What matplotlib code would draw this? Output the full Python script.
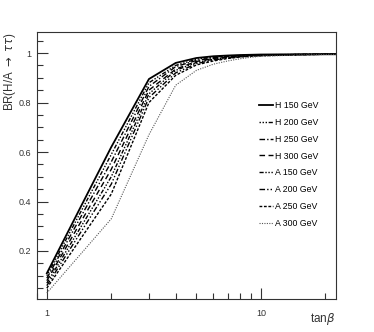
import matplotlib
matplotlib.use("Agg")
import matplotlib.pyplot as plt
from matplotlib.ticker import LogLocator, NullFormatter, FixedLocator, MultipleLocator

plt.rcParams['font.family'] = ['Liberation Sans', 'DejaVu Sans']

tanb = [1, 2, 3, 4, 5, 6, 7, 8, 9, 10, 15, 20, 30]

labels = ["H 150 GeV", "H 200 GeV", "H 250 GeV", "H 300 GeV",
          "A 150 GeV", "A 200 GeV", "A 250 GeV", "A 300 GeV"]

br_h150 = [0.11, 0.62, 0.895, 0.960, 0.980, 0.987, 0.990, 0.992, 0.993, 0.994, 0.995, 0.995, 0.995]
br_h200 = [0.10, 0.59, 0.880, 0.950, 0.975, 0.984, 0.988, 0.990, 0.992, 0.993, 0.994, 0.995, 0.995]
br_h250 = [0.09, 0.56, 0.865, 0.945, 0.970, 0.981, 0.986, 0.989, 0.991, 0.992, 0.994, 0.995, 0.995]
br_h300 = [0.08, 0.53, 0.850, 0.935, 0.966, 0.978, 0.984, 0.988, 0.990, 0.991, 0.994, 0.995, 0.996]
br_a150 = [0.07, 0.50, 0.835, 0.930, 0.962, 0.975, 0.982, 0.986, 0.989, 0.991, 0.994, 0.995, 0.996]
br_a200 = [0.06, 0.47, 0.820, 0.920, 0.957, 0.972, 0.980, 0.985, 0.988, 0.990, 0.994, 0.995, 0.996]
br_a250 = [0.05, 0.43, 0.800, 0.910, 0.952, 0.968, 0.978, 0.984, 0.987, 0.989, 0.993, 0.995, 0.997]
br_a300 = [0.03, 0.33, 0.670, 0.870, 0.930, 0.955, 0.968, 0.977, 0.983, 0.987, 0.992, 0.994, 0.995]

series = [br_h150, br_h200, br_h250, br_h300, br_a150, br_a200, br_a250, br_a300]
styles = ['-', (0, (1, 1.2, 1, 1.2, 1, 1.2, 3, 1.2)), (0, (4, 1.5, 1, 1.5)), (0, (4, 2.5)),
          (0, (3, 1.2, 1, 1.2, 1, 1.2, 1, 1.2)), (0, (4, 1.5, 1, 1.5, 1, 1.5)), (0, (2, 1.2)), (0, (1, 1.2))]
colors = ['black'] * 7 + ['#555555']
widths = [1.3, 1.0, 1.0, 1.0, 1.0, 1.0, 1.0, 0.8]

fig = plt.figure(figsize=(3.74, 3.32), dpi=100)
ax = fig.add_axes([0.099, 0.0994, 0.799, 0.8042])

for y, ls, c, lw, lab in zip(series, styles, colors, widths, labels):
    ax.plot(tanb, y, linestyle=ls, color=c, lw=lw, label=lab)

ax.set_xscale('log')
ax.set_xlim(0.9, 22.4)
ax.set_ylim(0.006, 1.085)

ax.xaxis.set_major_locator(FixedLocator([1, 10]))
ax.xaxis.set_minor_locator(LogLocator(base=10, subs=range(2, 10)))
ax.xaxis.set_minor_formatter(NullFormatter())
ax.set_xticklabels(['1', '10'])
ax.yaxis.set_major_locator(FixedLocator([0.2, 0.4, 0.6, 0.8, 1.0]))
ax.set_yticklabels(['0.2', '0.4', '0.6', '0.8', '1'])
ax.yaxis.set_minor_locator(MultipleLocator(0.05))

ax.tick_params(which='both', direction='in', top=False, right=False, labelsize=6.5, width=0.8, colors='#333333', labelcolor='#333333')
ax.tick_params(which='major', length=8)
ax.tick_params(which='minor', length=4)
ax.tick_params(axis='y', which='major', pad=4)
ax.tick_params(axis='x', which='major', pad=7)
for s in ax.spines.values():
    s.set_linewidth(0.8)
    s.set_color('#333333')

ax.set_ylabel(r'BR(H/A $\rightarrow$ $\tau\tau$)', fontsize=8.3, loc='top', color='#333333')
ax.yaxis.set_label_coords(-0.064, 1.0)
ax.set_xlabel(r'tan$\beta$', fontsize=8.5, loc='right', color='#333333')
ax.xaxis.set_label_coords(1.0, -0.045)

leg = ax.legend(loc='upper left', bbox_to_anchor=(0.73, 0.755), frameon=False, fontsize=6.3,
                handlelength=1.6, handletextpad=0.3, labelspacing=0.9, borderaxespad=0)

fig.savefig('out.png', dpi=100)
